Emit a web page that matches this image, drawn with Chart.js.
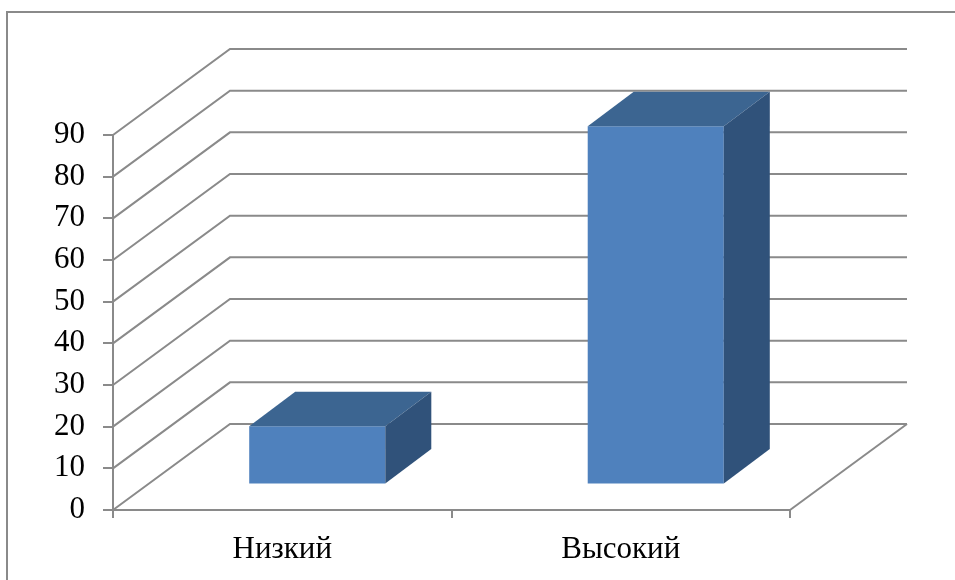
<!DOCTYPE html>
<html><head><meta charset="utf-8">
<script src="https://cdn.jsdelivr.net/npm/chart.js@4"></script>
<style>html,body{margin:0;padding:0;background:#fff;}#wrap{width:955px;height:580px;position:relative;}</style>
</head><body><div id="wrap"><canvas id="c" width="955" height="580"></canvas></div>
<script>
const categories = ['Низкий', 'Высокий'];
const values = [14, 86];
const yMin = 0, yMax = 90, yStep = 10;

const BACK = {dx: 117, dy: -86};
const BAR_FRONT = {dx: 35, dy: -25.5};
const BAR_DEPTH = {dx: 46, dy: -34.5};
const GRID = '#8a8a8a';
const FONT = "'Liberation Serif', 'Times New Roman', serif";

const threeD = {
  id: 'threeD',
  beforeDraw(chart) {
    const ctx = chart.ctx;
    ctx.save();
    ctx.strokeStyle = '#8a8a8a';
    ctx.lineWidth = 2;
    ctx.beginPath();
    ctx.moveTo(7, chart.height);
    ctx.lineTo(7, 12);
    ctx.lineTo(chart.width, 12);
    ctx.stroke();
    ctx.restore();
  },
  beforeDatasetsDraw(chart) {
    const ctx = chart.ctx, y = chart.scales.y, a = chart.chartArea;
    ctx.save();
    ctx.strokeStyle = GRID;
    ctx.lineWidth = 2;
    y.ticks.forEach(t => {
      const py = y.getPixelForValue(t.value);
      ctx.beginPath();
      ctx.moveTo(a.left, py);
      ctx.lineTo(a.left + BACK.dx, py + BACK.dy);
      ctx.lineTo(a.right + BACK.dx, py + BACK.dy);
      ctx.stroke();
    });
    const p0 = y.getPixelForValue(yMin);
    ctx.beginPath();
    ctx.moveTo(a.right, p0);
    ctx.lineTo(a.right + BACK.dx, p0 + BACK.dy);
    ctx.stroke();
    ctx.restore();
    ctx.save();
    ctx.translate(BAR_FRONT.dx, BAR_FRONT.dy);
  },
  afterDatasetsDraw(chart) {
    const ctx = chart.ctx;
    chart.getDatasetMeta(0).data.forEach(bar => {
      const p = bar.getProps(['x', 'y', 'base', 'width'], true);
      const L = p.x - p.width / 2, R = p.x + p.width / 2, T = p.y, B = p.base;
      ctx.fillStyle = '#3c6591';
      ctx.beginPath();
      ctx.moveTo(L, T); ctx.lineTo(R, T);
      ctx.lineTo(R + BAR_DEPTH.dx, T + BAR_DEPTH.dy);
      ctx.lineTo(L + BAR_DEPTH.dx, T + BAR_DEPTH.dy);
      ctx.closePath(); ctx.fill();
      ctx.fillStyle = '#30527a';
      ctx.beginPath();
      ctx.moveTo(R, T);
      ctx.lineTo(R + BAR_DEPTH.dx, T + BAR_DEPTH.dy);
      ctx.lineTo(R + BAR_DEPTH.dx, B + BAR_DEPTH.dy);
      ctx.lineTo(R, B);
      ctx.closePath(); ctx.fill();
    });
    ctx.restore();
  }
};

new Chart(document.getElementById('c'), {
  type: 'bar',
  data: {
    labels: categories,
    datasets: [{
      data: values,
      backgroundColor: '#4f81bd',
      borderWidth: 0,
      categoryPercentage: 1,
      barPercentage: 0.402,
      clip: false
    }]
  },
  options: {
    responsive: false,
    animation: false,
    devicePixelRatio: 1,
    layout: {padding: {left: 0, top: 135, right: 165, bottom: 0}},
    plugins: {legend: {display: false}, tooltip: {enabled: false}},
    scales: {
      x: {
        grid: {display: true, drawOnChartArea: false, drawTicks: true, tickLength: 8, color: GRID, lineWidth: 2, offset: true},
        border: {display: true, color: GRID, width: 2},
        ticks: {color: '#000', font: {family: FONT, size: 31}, padding: 13},
        afterFit(s) { s.height = 70; }
      },
      y: {
        min: yMin, max: yMax,
        grid: {display: true, drawOnChartArea: false, drawTicks: true, tickLength: 10, color: GRID, lineWidth: 2},
        border: {display: true, color: GRID, width: 2},
        ticks: {stepSize: yStep, color: '#000', font: {family: FONT, size: 31}, padding: 18},
        afterFit(s) { s.width = 113; }
      }
    }
  },
  plugins: [threeD]
});
</script></body></html>
